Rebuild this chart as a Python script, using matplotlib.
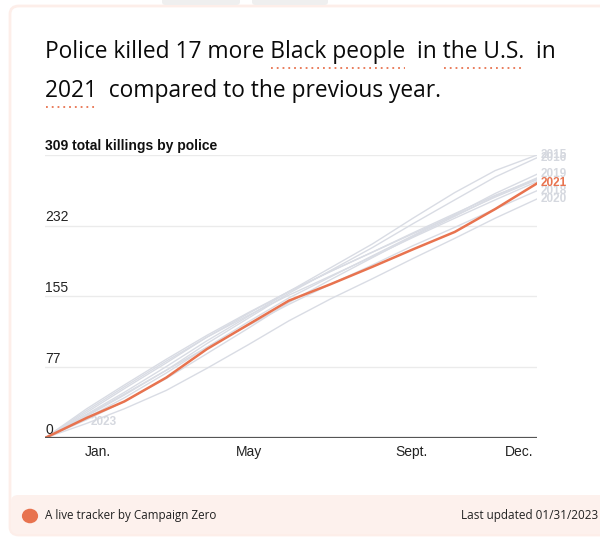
import matplotlib
matplotlib.use("Agg")
import matplotlib.pyplot as plt
from matplotlib.patches import FancyBboxPatch, Circle
from matplotlib.lines import Line2D

W, H = 600, 539
ORANGE = "#e8734f"
GREY_LINE = "#d9dce4"
GREY_LABEL = "#d5d8df"

# cumulative killings at the end of each month (day of year)
days = [0, 31, 59, 90, 120, 151, 181, 212, 243, 273, 304, 334, 365]
years = {
    "2013": [0, 32, 58, 86, 112, 137, 160, 182, 203, 224, 245, 265, 283],
    "2014": [0, 20, 40, 65, 92, 120, 148, 173, 197, 220, 242, 264, 284],
    "2015": [0, 26, 50, 78, 106, 133, 160, 186, 212, 240, 268, 292, 309],
    "2016": [0, 24, 47, 74, 103, 131, 158, 183, 208, 234, 260, 285, 306],
    "2017": [0, 28, 54, 82, 110, 136, 160, 182, 203, 223, 243, 263, 282],
    "2018": [0, 25, 48, 74, 99, 123, 146, 168, 189, 210, 230, 250, 270],
    "2019": [0, 22, 44, 71, 99, 127, 153, 176, 199, 221, 244, 267, 288],
    "2020": [0, 16, 32, 52, 76, 102, 128, 152, 174, 196, 218, 240, 261],
    "2022": [0, 30, 56, 84, 110, 134, 156, 177, 198, 219, 240, 260, 280],
}
days_2023 = [0, 31]
vals_2023 = [0, 23]
highlight = "2021"
vals_2021 = [0, 22, 40, 66, 97, 124, 150, 168, 187, 206, 225, 250, 278]

labelled = ["2015", "2016", "2019", "2018", "2020"]

yticks = [0, 77, 155, 232]
ymax = 309
month_pos = [39, 151, 272, 352]
month_lab = ["Jan.", "May", "Sept.", "Dec."]

fig = plt.figure(figsize=(W / 100, H / 100), dpi=100)
fig.patch.set_facecolor("white")


def fx(px):
    return px / W


def fy(py):
    return 1 - py / H


# card outline and footer band
card = FancyBboxPatch((fx(10), fy(535)), fx(640), fy(6) - fy(535),
                      boxstyle="round,pad=0,rounding_size=0.015",
                      transform=fig.transFigure, facecolor="white",
                      edgecolor="#fdeee9", linewidth=2, zorder=-2)
fig.patches.append(card)
footer = FancyBboxPatch((fx(11), fy(534)), fx(640), fy(495) - fy(534),
                        boxstyle="round,pad=0,rounding_size=0.012",
                        transform=fig.transFigure, facecolor="#fdf1ed",
                        edgecolor="none", zorder=-1)
fig.patches.append(footer)
for x0, x1 in [(162, 240), (252, 328)]:
    fig.patches.append(FancyBboxPatch((fx(x0), fy(5)), fx(x1 - x0), fy(0) - fy(5) + 0.01,
                                      boxstyle="round,pad=0,rounding_size=0.006",
                                      transform=fig.transFigure, facecolor="#efefef",
                                      edgecolor="none", zorder=-1))

# title with dotted underlines under the key phrases
renderer = fig.canvas.get_renderer()
title_kw = dict(fontsize=16.4, family="Open Sans", fontweight=500,
                color="#0a0a0a", va="baseline")
line1 = "Police killed 17 more Black people  in the U.S.  in"
line2 = "2021  compared to the previous year."
fig.text(fx(45), fy(58), line1, **title_kw)
fig.text(fx(45), fy(97), line2, **title_kw)


def text_width(s):
    t = fig.text(0, 0, s, **title_kw)
    w = t.get_window_extent(renderer).width
    t.remove()
    return w


def underline(line, phrase, base_y):
    start = line.index(phrase)
    x0 = 45 + text_width(line[:start]) if start else 45
    x1 = 45 + text_width(line[:start + len(phrase)])
    fig.add_artist(Line2D([fx(x0 + 1), fx(x1)], [fy(base_y + 10)] * 2,
                          transform=fig.transFigure, color=ORANGE,
                          linewidth=1.3, linestyle=(0, (1, 2.2))))


underline(line1, "Black people", 58)
underline(line1, "the U.S.", 58)
underline(line2, "2021", 97)

# chart area
ax = fig.add_axes([fx(45), fy(438), fx(537) - fx(45), fy(155) - fy(438)])
ax.set_zorder(2)
ax.set_xlim(0, 365)
ax.set_ylim(0, ymax)
for s in ax.spines.values():
    s.set_visible(False)
ax.set_xticks([])
ax.set_yticks([])
ax.set_facecolor("none")

for v in yticks[1:] + [ymax]:
    ax.axhline(v, color="#ebebeb", linewidth=1, zorder=1)
ax.axhline(0, color="#555555", linewidth=1.6, zorder=5)

for yr, vals in years.items():
    ax.plot(days, vals, color=GREY_LINE, linewidth=1, zorder=2)
ax.plot(days_2023, vals_2023, color=GREY_LINE, linewidth=1, zorder=2)
ax.plot(days, vals_2021, color=ORANGE, linewidth=1.8, zorder=4)

lab_kw = dict(fontsize=8.5, family="Liberation Sans", fontweight="bold",
              va="center", ha="left", clip_on=False)
for yr in labelled:
    ax.text(368, years[yr][-1], yr, color=GREY_LABEL, **lab_kw)
ax.text(days_2023[-1] + 3, vals_2023[-1] - 5, "2023", color=GREY_LABEL, **lab_kw)
ax.text(368, vals_2021[-1], highlight, color=ORANGE, zorder=6, **lab_kw)

for v in yticks:
    ax.text(0, v + 1.5, str(v), fontsize=10, family="Liberation Sans",
            color="#222222", ha="left", va="bottom")
ax.text(0, ymax + 2, "309 total killings by police", fontsize=10,
        family="Liberation Sans", fontweight="bold", color="#111111",
        ha="left", va="bottom")

for p, lab in zip(month_pos, month_lab):
    ax.text(p, -8, lab, fontsize=10, family="Liberation Sans",
            color="#222222", ha="center", va="top")

# footer
fig.patches.append(Circle((fx(30), fy(516)), 0.0135, transform=fig.transFigure,
                          facecolor=ORANGE, edgecolor="none", zorder=0))
fig.text(fx(45), fy(516), "A live tracker by Campaign Zero", fontsize=8.4,
         family="Open Sans", color="#222222", va="center", ha="left")
fig.text(fx(598), fy(516), "Last updated 01/31/2023", fontsize=8.5,
         family="Open Sans", color="#222222", va="center", ha="right")

fig.savefig("out.png", dpi=100)
